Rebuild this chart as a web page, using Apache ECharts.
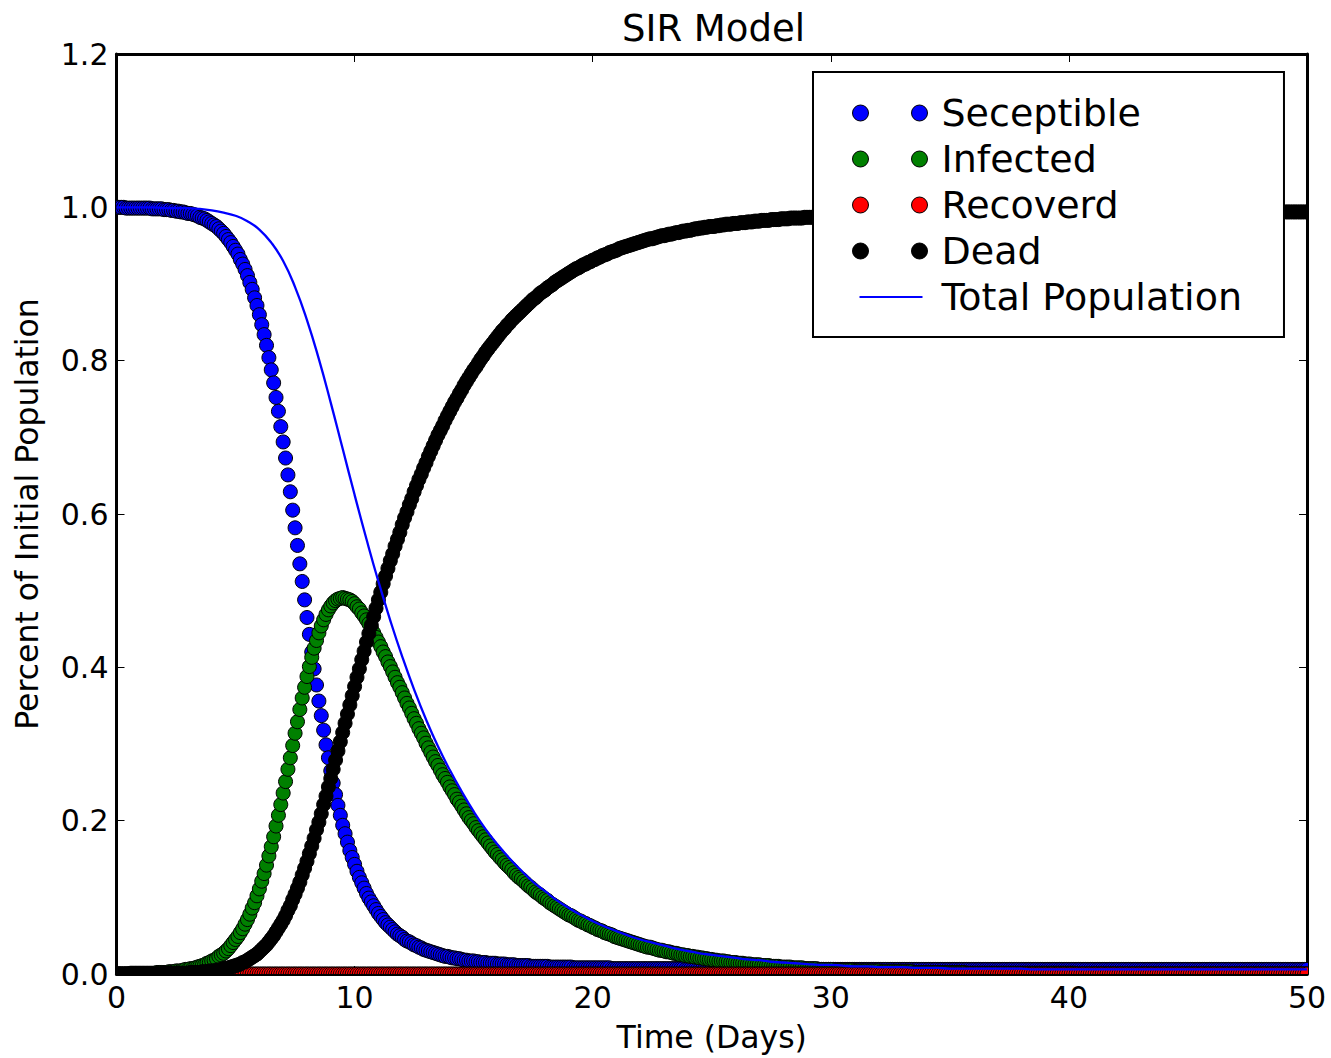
<!DOCTYPE html>
<html>
<head>
<meta charset="utf-8">
<title>SIR Model</title>
<script src="https://cdn.jsdelivr.net/npm/echarts@6/dist/echarts.min.js"></script>
<style>
  html, body { margin: 0; padding: 0; background: #fff; }
  #main { width: 1331px; height: 1058px; }
</style>
</head>
<body>
<div id="main"></div>
<script>
// sampling of the simulation: one point every 0.1 day, 0 .. 50
const dayStep = 0.1
// total population line is read at 0.5 day
const totalStep = 0.5

const seceptible = [
  1.000, 1.000, 1.000, 1.000, 0.999, 0.999, 0.999, 0.999, 0.999, 0.999,
  0.999, 0.999, 0.999, 0.999, 0.999, 0.998, 0.998, 0.998, 0.998, 0.998,
  0.997, 0.997, 0.997, 0.996, 0.996, 0.995, 0.995, 0.994, 0.994, 0.993,
  0.992, 0.992, 0.991, 0.990, 0.989, 0.987, 0.986, 0.985, 0.983, 0.981,
  0.979, 0.977, 0.975, 0.972, 0.969, 0.966, 0.962, 0.958, 0.954, 0.949,
  0.944, 0.939, 0.932, 0.926, 0.919, 0.911, 0.902, 0.893, 0.882, 0.872,
  0.860, 0.847, 0.834, 0.820, 0.804, 0.788, 0.771, 0.752, 0.734, 0.714,
  0.694, 0.673, 0.651, 0.629, 0.605, 0.582, 0.559, 0.535, 0.512, 0.488,
  0.465, 0.443, 0.420, 0.398, 0.377, 0.356, 0.337, 0.318, 0.299, 0.282,
  0.265, 0.249, 0.234, 0.220, 0.207, 0.194, 0.183, 0.172, 0.161, 0.152,
  0.143, 0.134, 0.126, 0.119, 0.112, 0.105, 0.099, 0.094, 0.089, 0.084,
  0.079, 0.075, 0.071, 0.067, 0.064, 0.061, 0.058, 0.055, 0.052, 0.050,
  0.048, 0.045, 0.043, 0.042, 0.040, 0.038, 0.037, 0.035, 0.034, 0.032,
  0.031, 0.030, 0.029, 0.028, 0.027, 0.026, 0.025, 0.024, 0.023, 0.023,
  0.022, 0.021, 0.021, 0.020, 0.020, 0.019, 0.018, 0.018, 0.017, 0.017,
  0.017, 0.016, 0.016, 0.015, 0.015, 0.015, 0.014, 0.014, 0.014, 0.014,
  0.013, 0.013, 0.013, 0.013, 0.012, 0.012, 0.012, 0.012, 0.011, 0.011,
  0.011, 0.011, 0.011, 0.011, 0.010, 0.010, 0.010, 0.010, 0.010, 0.010,
  0.010, 0.010, 0.009, 0.009, 0.009, 0.009, 0.009, 0.009, 0.009, 0.009,
  0.009, 0.009, 0.008, 0.008, 0.008, 0.008, 0.008, 0.008, 0.008, 0.008,
  0.008, 0.008, 0.008, 0.008, 0.008, 0.008, 0.008, 0.008, 0.007, 0.007,
  0.007, 0.007, 0.007, 0.007, 0.007, 0.007, 0.007, 0.007, 0.007, 0.007,
  0.007, 0.007, 0.007, 0.007, 0.007, 0.007, 0.007, 0.007, 0.007, 0.007,
  0.007, 0.007, 0.007, 0.007, 0.007, 0.007, 0.007, 0.007, 0.007, 0.006,
  0.006, 0.006, 0.006, 0.006, 0.006, 0.006, 0.006, 0.006, 0.006, 0.006,
  0.006, 0.006, 0.006, 0.006, 0.006, 0.006, 0.006, 0.006, 0.006, 0.006,
  0.006, 0.006, 0.006, 0.006, 0.006, 0.006, 0.006, 0.006, 0.006, 0.006,
  0.006, 0.006, 0.006, 0.006, 0.006, 0.006, 0.006, 0.006, 0.006, 0.006,
  0.006, 0.006, 0.006, 0.006, 0.006, 0.006, 0.006, 0.006, 0.006, 0.006,
  0.006, 0.006, 0.006, 0.006, 0.006, 0.006, 0.006, 0.006, 0.006, 0.006,
  0.006, 0.006, 0.006, 0.006, 0.006, 0.006, 0.006, 0.006, 0.006, 0.006,
  0.006, 0.006, 0.006, 0.006, 0.006, 0.006, 0.006, 0.006, 0.006, 0.006,
  0.006, 0.006, 0.006, 0.006, 0.006, 0.006, 0.006, 0.006, 0.006, 0.006,
  0.006, 0.006, 0.006, 0.006, 0.006, 0.006, 0.006, 0.006, 0.006, 0.006,
  0.006, 0.006, 0.006, 0.006, 0.006, 0.006, 0.006, 0.006, 0.006, 0.006,
  0.006, 0.006, 0.006, 0.006, 0.006, 0.006, 0.006, 0.006, 0.006, 0.006,
  0.006, 0.006, 0.006, 0.006, 0.006, 0.006, 0.006, 0.006, 0.006, 0.006,
  0.006, 0.006, 0.006, 0.006, 0.006, 0.006, 0.006, 0.006, 0.006, 0.006,
  0.006, 0.006, 0.006, 0.006, 0.006, 0.006, 0.006, 0.006, 0.006, 0.006,
  0.006, 0.006, 0.006, 0.006, 0.006, 0.006, 0.006, 0.006, 0.006, 0.006,
  0.006, 0.006, 0.006, 0.006, 0.006, 0.006, 0.006, 0.006, 0.006, 0.006,
  0.006, 0.006, 0.006, 0.006, 0.006, 0.006, 0.006, 0.006, 0.006, 0.006,
  0.006, 0.006, 0.006, 0.006, 0.006, 0.006, 0.006, 0.006, 0.006, 0.006,
  0.006, 0.006, 0.006, 0.006, 0.006, 0.006, 0.006, 0.006, 0.006, 0.006,
  0.006, 0.006, 0.006, 0.006, 0.006, 0.006, 0.006, 0.006, 0.006, 0.006,
  0.006, 0.006, 0.006, 0.006, 0.006, 0.006, 0.006, 0.006, 0.006, 0.006,
  0.006, 0.006, 0.006, 0.006, 0.006, 0.006, 0.006, 0.006, 0.006, 0.006,
  0.006, 0.006, 0.006, 0.006, 0.006, 0.006, 0.006, 0.006, 0.006, 0.006,
  0.006, 0.006, 0.006, 0.006, 0.006, 0.006, 0.006, 0.006, 0.006, 0.006,
  0.006, 0.006, 0.006, 0.006, 0.006, 0.006, 0.006, 0.006, 0.006, 0.006,
  0.006
]

const infected = [
  0.000, 0.000, 0.000, 0.000, 0.000, 0.000, 0.001, 0.001, 0.001, 0.001,
  0.001, 0.001, 0.001, 0.001, 0.001, 0.001, 0.001, 0.002, 0.002, 0.002,
  0.002, 0.002, 0.003, 0.003, 0.003, 0.004, 0.004, 0.004, 0.005, 0.006,
  0.006, 0.007, 0.007, 0.008, 0.009, 0.010, 0.011, 0.012, 0.014, 0.015,
  0.017, 0.018, 0.020, 0.023, 0.025, 0.027, 0.030, 0.033, 0.037, 0.041,
  0.045, 0.049, 0.054, 0.059, 0.065, 0.071, 0.078, 0.086, 0.093, 0.102,
  0.111, 0.121, 0.131, 0.142, 0.154, 0.166, 0.179, 0.193, 0.207, 0.221,
  0.236, 0.251, 0.267, 0.282, 0.298, 0.314, 0.329, 0.345, 0.360, 0.374,
  0.388, 0.401, 0.413, 0.425, 0.435, 0.445, 0.454, 0.462, 0.469, 0.475,
  0.480, 0.484, 0.487, 0.489, 0.490, 0.491, 0.490, 0.489, 0.488, 0.486,
  0.483, 0.479, 0.476, 0.471, 0.467, 0.462, 0.457, 0.451, 0.445, 0.439,
  0.433, 0.427, 0.420, 0.414, 0.407, 0.401, 0.394, 0.387, 0.380, 0.374,
  0.367, 0.360, 0.353, 0.347, 0.340, 0.333, 0.327, 0.320, 0.314, 0.308,
  0.301, 0.295, 0.289, 0.283, 0.277, 0.272, 0.266, 0.260, 0.255, 0.250,
  0.244, 0.239, 0.234, 0.228, 0.224, 0.219, 0.214, 0.209, 0.204, 0.200,
  0.196, 0.191, 0.187, 0.183, 0.179, 0.175, 0.171, 0.167, 0.163, 0.159,
  0.156, 0.152, 0.149, 0.145, 0.142, 0.139, 0.136, 0.132, 0.129, 0.126,
  0.124, 0.121, 0.118, 0.115, 0.113, 0.110, 0.107, 0.105, 0.103, 0.100,
  0.098, 0.096, 0.093, 0.091, 0.089, 0.087, 0.085, 0.083, 0.081, 0.079,
  0.077, 0.076, 0.074, 0.072, 0.070, 0.069, 0.067, 0.066, 0.064, 0.063,
  0.061, 0.060, 0.058, 0.057, 0.056, 0.054, 0.053, 0.052, 0.051, 0.049,
  0.048, 0.047, 0.046, 0.045, 0.044, 0.043, 0.042, 0.041, 0.040, 0.039,
  0.038, 0.037, 0.036, 0.035, 0.035, 0.034, 0.033, 0.032, 0.031, 0.031,
  0.030, 0.029, 0.029, 0.028, 0.027, 0.027, 0.026, 0.025, 0.025, 0.024,
  0.024, 0.023, 0.023, 0.022, 0.022, 0.021, 0.021, 0.020, 0.020, 0.019,
  0.019, 0.018, 0.018, 0.017, 0.017, 0.017, 0.016, 0.016, 0.015, 0.015,
  0.015, 0.014, 0.014, 0.014, 0.013, 0.013, 0.013, 0.012, 0.012, 0.012,
  0.012, 0.011, 0.011, 0.011, 0.011, 0.010, 0.010, 0.010, 0.010, 0.009,
  0.009, 0.009, 0.009, 0.009, 0.008, 0.008, 0.008, 0.008, 0.008, 0.007,
  0.007, 0.007, 0.007, 0.007, 0.007, 0.006, 0.006, 0.006, 0.006, 0.006,
  0.006, 0.006, 0.005, 0.005, 0.005, 0.005, 0.005, 0.005, 0.005, 0.005,
  0.004, 0.004, 0.004, 0.004, 0.004, 0.004, 0.004, 0.004, 0.004, 0.004,
  0.004, 0.003, 0.003, 0.003, 0.003, 0.003, 0.003, 0.003, 0.003, 0.003,
  0.003, 0.003, 0.003, 0.003, 0.003, 0.002, 0.002, 0.002, 0.002, 0.002,
  0.002, 0.002, 0.002, 0.002, 0.002, 0.002, 0.002, 0.002, 0.002, 0.002,
  0.002, 0.002, 0.002, 0.002, 0.002, 0.002, 0.002, 0.001, 0.001, 0.001,
  0.001, 0.001, 0.001, 0.001, 0.001, 0.001, 0.001, 0.001, 0.001, 0.001,
  0.001, 0.001, 0.001, 0.001, 0.001, 0.001, 0.001, 0.001, 0.001, 0.001,
  0.001, 0.001, 0.001, 0.001, 0.001, 0.001, 0.001, 0.001, 0.001, 0.001,
  0.001, 0.001, 0.001, 0.001, 0.001, 0.001, 0.001, 0.001, 0.001, 0.001,
  0.001, 0.001, 0.001, 0.000, 0.000, 0.000, 0.000, 0.000, 0.000, 0.000,
  0.000, 0.000, 0.000, 0.000, 0.000, 0.000, 0.000, 0.000, 0.000, 0.000,
  0.000, 0.000, 0.000, 0.000, 0.000, 0.000, 0.000, 0.000, 0.000, 0.000,
  0.000, 0.000, 0.000, 0.000, 0.000, 0.000, 0.000, 0.000, 0.000, 0.000,
  0.000, 0.000, 0.000, 0.000, 0.000, 0.000, 0.000, 0.000, 0.000, 0.000,
  0.000, 0.000, 0.000, 0.000, 0.000, 0.000, 0.000, 0.000, 0.000, 0.000,
  0.000, 0.000, 0.000, 0.000, 0.000, 0.000, 0.000, 0.000, 0.000, 0.000,
  0.000, 0.000, 0.000, 0.000, 0.000, 0.000, 0.000, 0.000, 0.000, 0.000,
  0.000, 0.000, 0.000, 0.000, 0.000, 0.000, 0.000, 0.000, 0.000, 0.000,
  0.000, 0.000, 0.000, 0.000, 0.000, 0.000, 0.000, 0.000, 0.000, 0.000,
  0.000
]

// recovered stays on the floor the whole run
const recoverd = [
  0, 0, 0, 0, 0, 0, 0, 0, 0, 0, 0, 0, 0, 0, 0, 0, 0, 0, 0, 0, 0, 0, 0, 0, 0, 0, 0, 0, 0, 0, 0, 0, 0, 0, 0, 0, 0, 0, 0, 0, 0, 0, 0, 0, 0, 0, 0, 0, 0, 0,
  0, 0, 0, 0, 0, 0, 0, 0, 0, 0, 0, 0, 0, 0, 0, 0, 0, 0, 0, 0, 0, 0, 0, 0, 0, 0, 0, 0, 0, 0, 0, 0, 0, 0, 0, 0, 0, 0, 0, 0, 0, 0, 0, 0, 0, 0, 0, 0, 0, 0,
  0, 0, 0, 0, 0, 0, 0, 0, 0, 0, 0, 0, 0, 0, 0, 0, 0, 0, 0, 0, 0, 0, 0, 0, 0, 0, 0, 0, 0, 0, 0, 0, 0, 0, 0, 0, 0, 0, 0, 0, 0, 0, 0, 0, 0, 0, 0, 0, 0, 0,
  0, 0, 0, 0, 0, 0, 0, 0, 0, 0, 0, 0, 0, 0, 0, 0, 0, 0, 0, 0, 0, 0, 0, 0, 0, 0, 0, 0, 0, 0, 0, 0, 0, 0, 0, 0, 0, 0, 0, 0, 0, 0, 0, 0, 0, 0, 0, 0, 0, 0,
  0, 0, 0, 0, 0, 0, 0, 0, 0, 0, 0, 0, 0, 0, 0, 0, 0, 0, 0, 0, 0, 0, 0, 0, 0, 0, 0, 0, 0, 0, 0, 0, 0, 0, 0, 0, 0, 0, 0, 0, 0, 0, 0, 0, 0, 0, 0, 0, 0, 0,
  0, 0, 0, 0, 0, 0, 0, 0, 0, 0, 0, 0, 0, 0, 0, 0, 0, 0, 0, 0, 0, 0, 0, 0, 0, 0, 0, 0, 0, 0, 0, 0, 0, 0, 0, 0, 0, 0, 0, 0, 0, 0, 0, 0, 0, 0, 0, 0, 0, 0,
  0, 0, 0, 0, 0, 0, 0, 0, 0, 0, 0, 0, 0, 0, 0, 0, 0, 0, 0, 0, 0, 0, 0, 0, 0, 0, 0, 0, 0, 0, 0, 0, 0, 0, 0, 0, 0, 0, 0, 0, 0, 0, 0, 0, 0, 0, 0, 0, 0, 0,
  0, 0, 0, 0, 0, 0, 0, 0, 0, 0, 0, 0, 0, 0, 0, 0, 0, 0, 0, 0, 0, 0, 0, 0, 0, 0, 0, 0, 0, 0, 0, 0, 0, 0, 0, 0, 0, 0, 0, 0, 0, 0, 0, 0, 0, 0, 0, 0, 0, 0,
  0, 0, 0, 0, 0, 0, 0, 0, 0, 0, 0, 0, 0, 0, 0, 0, 0, 0, 0, 0, 0, 0, 0, 0, 0, 0, 0, 0, 0, 0, 0, 0, 0, 0, 0, 0, 0, 0, 0, 0, 0, 0, 0, 0, 0, 0, 0, 0, 0, 0,
  0, 0, 0, 0, 0, 0, 0, 0, 0, 0, 0, 0, 0, 0, 0, 0, 0, 0, 0, 0, 0, 0, 0, 0, 0, 0, 0, 0, 0, 0, 0, 0, 0, 0, 0, 0, 0, 0, 0, 0, 0, 0, 0, 0, 0, 0, 0, 0, 0, 0,
  0
]

const dead = [
  0.000, 0.000, 0.000, 0.000, 0.000, 0.000, 0.000, 0.000, 0.000, 0.000,
  0.000, 0.000, 0.000, 0.000, 0.000, 0.000, 0.000, 0.000, 0.000, 0.000,
  0.001, 0.001, 0.001, 0.001, 0.001, 0.001, 0.001, 0.001, 0.001, 0.001,
  0.001, 0.002, 0.002, 0.002, 0.002, 0.002, 0.003, 0.003, 0.003, 0.004,
  0.004, 0.004, 0.005, 0.005, 0.006, 0.007, 0.007, 0.008, 0.009, 0.010,
  0.011, 0.012, 0.013, 0.015, 0.016, 0.018, 0.020, 0.022, 0.024, 0.026,
  0.029, 0.032, 0.035, 0.038, 0.042, 0.046, 0.050, 0.055, 0.060, 0.065,
  0.070, 0.076, 0.083, 0.089, 0.097, 0.104, 0.112, 0.120, 0.129, 0.138,
  0.147, 0.157, 0.167, 0.177, 0.188, 0.198, 0.209, 0.221, 0.232, 0.244,
  0.255, 0.267, 0.279, 0.291, 0.303, 0.315, 0.327, 0.339, 0.351, 0.363,
  0.375, 0.387, 0.398, 0.410, 0.421, 0.433, 0.444, 0.455, 0.466, 0.477,
  0.488, 0.498, 0.509, 0.519, 0.529, 0.539, 0.548, 0.558, 0.567, 0.576,
  0.586, 0.595, 0.603, 0.612, 0.620, 0.629, 0.637, 0.645, 0.652, 0.660,
  0.667, 0.675, 0.682, 0.689, 0.696, 0.703, 0.709, 0.715, 0.722, 0.728,
  0.734, 0.740, 0.746, 0.751, 0.757, 0.762, 0.768, 0.773, 0.778, 0.783,
  0.788, 0.792, 0.797, 0.802, 0.806, 0.811, 0.815, 0.819, 0.823, 0.827,
  0.831, 0.835, 0.839, 0.842, 0.846, 0.849, 0.853, 0.856, 0.859, 0.862,
  0.865, 0.868, 0.871, 0.874, 0.877, 0.880, 0.882, 0.885, 0.888, 0.890,
  0.892, 0.895, 0.897, 0.899, 0.902, 0.904, 0.906, 0.908, 0.910, 0.912,
  0.914, 0.916, 0.918, 0.920, 0.921, 0.923, 0.925, 0.926, 0.928, 0.929,
  0.931, 0.932, 0.934, 0.935, 0.937, 0.938, 0.939, 0.941, 0.942, 0.943,
  0.944, 0.946, 0.947, 0.948, 0.949, 0.950, 0.951, 0.952, 0.953, 0.954,
  0.955, 0.956, 0.957, 0.958, 0.959, 0.959, 0.960, 0.961, 0.962, 0.963,
  0.963, 0.964, 0.965, 0.965, 0.966, 0.967, 0.967, 0.968, 0.969, 0.969,
  0.970, 0.970, 0.971, 0.972, 0.972, 0.973, 0.973, 0.974, 0.974, 0.975,
  0.975, 0.975, 0.976, 0.976, 0.977, 0.977, 0.978, 0.978, 0.978, 0.979,
  0.979, 0.979, 0.980, 0.980, 0.980, 0.981, 0.981, 0.981, 0.982, 0.982,
  0.982, 0.983, 0.983, 0.983, 0.983, 0.984, 0.984, 0.984, 0.984, 0.985,
  0.985, 0.985, 0.985, 0.986, 0.986, 0.986, 0.986, 0.986, 0.986, 0.987,
  0.987, 0.987, 0.987, 0.987, 0.988, 0.988, 0.988, 0.988, 0.988, 0.988,
  0.988, 0.989, 0.989, 0.989, 0.989, 0.989, 0.989, 0.989, 0.989, 0.990,
  0.990, 0.990, 0.990, 0.990, 0.990, 0.990, 0.990, 0.990, 0.990, 0.991,
  0.991, 0.991, 0.991, 0.991, 0.991, 0.991, 0.991, 0.991, 0.991, 0.991,
  0.991, 0.991, 0.992, 0.992, 0.992, 0.992, 0.992, 0.992, 0.992, 0.992,
  0.992, 0.992, 0.992, 0.992, 0.992, 0.992, 0.992, 0.992, 0.992, 0.992,
  0.993, 0.993, 0.993, 0.993, 0.993, 0.993, 0.993, 0.993, 0.993, 0.993,
  0.993, 0.993, 0.993, 0.993, 0.993, 0.993, 0.993, 0.993, 0.993, 0.993,
  0.993, 0.993, 0.993, 0.993, 0.993, 0.993, 0.993, 0.993, 0.993, 0.993,
  0.993, 0.993, 0.993, 0.993, 0.994, 0.994, 0.994, 0.994, 0.994, 0.994,
  0.994, 0.994, 0.994, 0.994, 0.994, 0.994, 0.994, 0.994, 0.994, 0.994,
  0.994, 0.994, 0.994, 0.994, 0.994, 0.994, 0.994, 0.994, 0.994, 0.994,
  0.994, 0.994, 0.994, 0.994, 0.994, 0.994, 0.994, 0.994, 0.994, 0.994,
  0.994, 0.994, 0.994, 0.994, 0.994, 0.994, 0.994, 0.994, 0.994, 0.994,
  0.994, 0.994, 0.994, 0.994, 0.994, 0.994, 0.994, 0.994, 0.994, 0.994,
  0.994, 0.994, 0.994, 0.994, 0.994, 0.994, 0.994, 0.994, 0.994, 0.994,
  0.994, 0.994, 0.994, 0.994, 0.994, 0.994, 0.994, 0.994, 0.994, 0.994,
  0.994, 0.994, 0.994, 0.994, 0.994, 0.994, 0.994, 0.994, 0.994, 0.994,
  0.994, 0.994, 0.994, 0.994, 0.994, 0.994, 0.994, 0.994, 0.994, 0.994,
  0.994, 0.994, 0.994, 0.994, 0.994, 0.994, 0.994, 0.994, 0.994, 0.994,
  0.994, 0.994, 0.994, 0.994, 0.994, 0.994, 0.994, 0.994, 0.994, 0.994,
  0.994
]

const totalPopulation = [
  1.000, 1.000, 1.000, 1.000, 0.999, 0.999, 0.999, 0.998, 0.996, 0.993,
  0.989, 0.982, 0.971, 0.954, 0.930, 0.896, 0.853, 0.802, 0.745, 0.685,
  0.625, 0.567, 0.512, 0.461, 0.414, 0.371, 0.332, 0.297, 0.266, 0.238,
  0.212, 0.189, 0.169, 0.151, 0.135, 0.120, 0.108, 0.096, 0.086, 0.077,
  0.069, 0.062, 0.056, 0.050, 0.045, 0.041, 0.037, 0.033, 0.030, 0.027,
  0.025, 0.023, 0.021, 0.019, 0.018, 0.016, 0.015, 0.014, 0.013, 0.012,
  0.012, 0.011, 0.010, 0.010, 0.009, 0.009, 0.009, 0.008, 0.008, 0.008,
  0.007, 0.007, 0.007, 0.007, 0.007, 0.007, 0.007, 0.006, 0.006, 0.006,
  0.006, 0.006, 0.006, 0.006, 0.006, 0.006, 0.006, 0.006, 0.006, 0.006,
  0.006, 0.006, 0.006, 0.006, 0.006, 0.006, 0.006, 0.006, 0.006, 0.006,
  0.006
]

const xTicks = { min: 0, max: 50, interval: 10 }
const yTicks = { min: 0, max: 1.2, interval: 0.2 }

const FONT = 'DejaVu Sans'
const dotIcon = 'path://M0,8a8,8 0 1,0 16,0a8,8 0 1,0 -16,0zM59,8a8,8 0 1,0 16,0a8,8 0 1,0 -16,0z'
const lineIcon = 'path://M0,0h0.01v0.01h-0.01zM7,7h63v2h-63zM74.99,15.99h0.01v0.01h-0.01z'

function toPairs (values, step) {
    return values.map((v, i) => [Math.round(i * step * 100) / 100, v])
}

// matplotlib style round markers, clipped by the axes box
function dotSeries (name, color, values) {
    return {
        name: name,
        type: 'custom',
        clip: true,
        z: 2,
        itemStyle: { color: color },
        encode: { x: 0, y: 1 },
        data: toPairs(values, dayStep),
        renderItem: function (params, api) {
            const p = api.coord([api.value(0), api.value(1)])
            return {
                type: 'circle',
                shape: { cx: p[0], cy: p[1], r: 7 },
                style: { fill: color, stroke: '#000', lineWidth: 1 }
            }
        }
    }
}

function frameAxis (pos, ticks, showLabel, extra) {
    return Object.assign({
        type: 'value',
        position: pos,
        min: ticks.min,
        max: ticks.max,
        interval: ticks.interval,
        axisLine: { show: true, onZero: false, lineStyle: { color: '#000', width: 3 } },
        axisTick: { show: true, inside: true, length: 8, lineStyle: { color: '#000', width: 1 } },
        axisLabel: { show: showLabel, color: '#000', fontFamily: FONT, fontSize: 30, margin: 8 },
        splitLine: { show: false }
    }, extra || {})
}

const chart = echarts.init(document.getElementById('main'), null, { renderer: 'svg' })

chart.setOption({
    animation: false,
    backgroundColor: '#fff',
    title: {
        text: 'SIR Model',
        left: 622,
        top: 10,
        padding: 0,
        textStyle: { fontFamily: FONT, fontSize: 37, fontWeight: 'normal', color: '#000' }
    },
    grid: { left: 116.5, right: 24, top: 54, bottom: 82 },
    legend: {
        orient: 'vertical',
        left: 813,
        top: 72,
        padding: [22, 42, 21, 39],
        itemWidth: 75,
        itemHeight: 16,
        itemGap: 8,
        selectedMode: false,
        backgroundColor: '#fff',
        borderColor: '#000',
        borderWidth: 2,
        textStyle: { fontFamily: FONT, fontSize: 38, color: '#000', padding: [0, 0, 0, 9] },
        data: [
            { name: 'Seceptible', icon: dotIcon, itemStyle: { color: '#0000ff', borderColor: '#000', borderWidth: 1 } },
            { name: 'Infected', icon: dotIcon, itemStyle: { color: '#008000', borderColor: '#000', borderWidth: 1 } },
            { name: 'Recoverd', icon: dotIcon, itemStyle: { color: '#ff0000', borderColor: '#000', borderWidth: 1 } },
            { name: 'Dead', icon: dotIcon, itemStyle: { color: '#000000', borderColor: '#000', borderWidth: 1 } },
            { name: 'Total Population', icon: lineIcon, itemStyle: { color: '#0000ff', borderWidth: 0 } }
        ]
    },
    xAxis: [
        frameAxis('bottom', xTicks, true, {
            name: 'Time (Days)',
            nameLocation: 'middle',
            nameGap: 47,
            nameTextStyle: { fontFamily: FONT, fontSize: 31.5, color: '#000' }
        }),
        frameAxis('top', xTicks, false)
    ],
    yAxis: [
        frameAxis('left', yTicks, true, {
            name: 'Percent of Initial Population',
            nameLocation: 'middle',
            nameGap: 74,
            nameTextStyle: { fontFamily: FONT, fontSize: 31.5, color: '#000' },
            axisLabel: {
                show: true, color: '#000', fontFamily: FONT, fontSize: 30, margin: 8,
                formatter: v => v.toFixed(1)
            }
        }),
        frameAxis('right', yTicks, false)
    ],
    series: [
        dotSeries('Seceptible', '#0000ff', seceptible),
        dotSeries('Infected', '#008000', infected),
        dotSeries('Recoverd', '#ff0000', recoverd),
        dotSeries('Dead', '#000000', dead),
        {
            name: 'Total Population',
            type: 'line',
            z: 3,
            clip: true,
            data: toPairs(totalPopulation, totalStep),
            showSymbol: false,
            symbol: 'none',
            smooth: 0.5,
            itemStyle: { color: '#0000ff' },
            lineStyle: { color: '#0000ff', width: 2.3 }
        }
    ]
})
</script>
</body>
</html>
